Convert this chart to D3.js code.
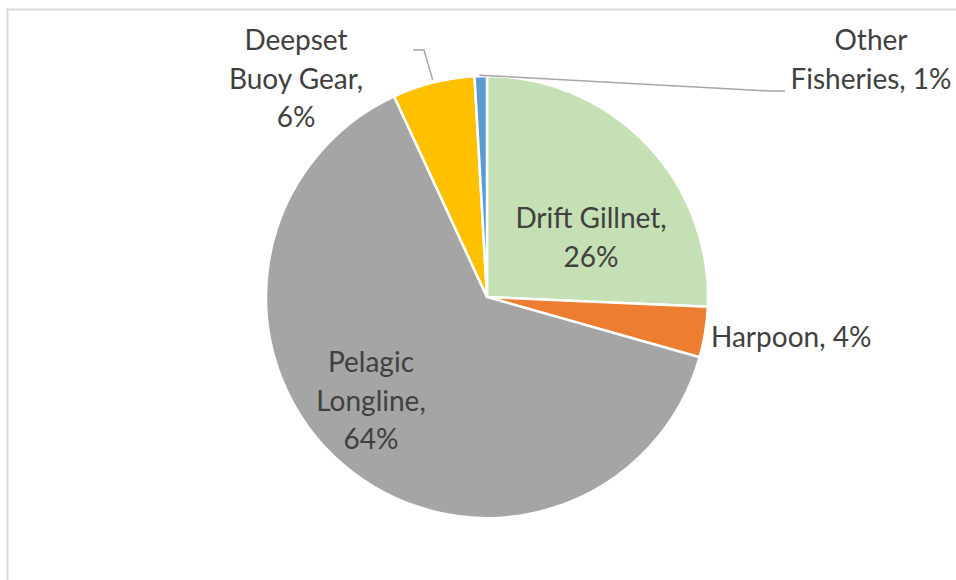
<!DOCTYPE html>
<html>
<head>
<meta charset="utf-8">
<script src="https://cdnjs.cloudflare.com/ajax/libs/d3/7.8.5/d3.min.js"></script>
<style>
  html, body { margin: 0; padding: 0; background: #fff; }
  svg { display: block; }
  .lbl { font-family: Lato, "Open Sans", sans-serif; fill: #404040; }
</style>
</head>
<body>
<svg class="chart"></svg>
<script>
// share of catch by fishery (percent), clockwise from 12 o'clock
var fisheries = ["Drift Gillnet", "Harpoon", "Pelagic Longline", "Deepset Buoy Gear", "Other Fisheries"];
var shares = [25.7, 3.7, 63.7, 6.0, 0.9];
var sliceColors = ["#c5e0b4", "#ed7d31", "#a5a5a5", "#ffc000", "#5b9bd5"];
// how each label is broken into lines
var labelLines = [["Drift Gillnet,"], ["Harpoon,"], ["Pelagic", "Longline,"], ["Deepset", "Buoy Gear,"], ["Other", "Fisheries,"]];

var W = 956, H = 580;
var cx = 487, cy = 297, R = 221;
var fontSize = 28, lineH = 38.5;

// label anchors relative to the pie centre: [dx, dy of first baseline, anchor, pct on own line]
var labelPos = [
  [104, -69, "middle", true],
  [224, 50, "start", false],
  [-116, 75, "middle", true],
  [-191, -247, "middle", true],
  [384, -247, "middle", false]
];

var svg = d3.select(".chart").attr("width", W).attr("height", H);

// chart frame (runs off the right and bottom edge)
svg.append("rect")
  .attr("x", 7.5).attr("y", 9.5)
  .attr("width", 1200).attr("height", 1200)
  .attr("fill", "none").attr("stroke", "#d9d9d9").attr("stroke-width", 2);

var data = fisheries.map(function(f, i) { return {name: f, value: shares[i], i: i}; });

var pie = d3.pie().sort(null).value(function(d) { return d.value; })
  .startAngle(0).endAngle(2 * Math.PI);
var arc = d3.arc().innerRadius(0).outerRadius(R);
var arcs = pie(data);

var g = svg.append("g").attr("transform", "translate(" + cx + "," + cy + ")");

g.selectAll("path.slice")
  .data(arcs)
  .enter().append("path")
  .attr("class", "slice")
  .attr("d", arc)
  .attr("fill", function(d) { return sliceColors[d.data.i]; })
  .attr("stroke", "#fff")
  .attr("stroke-width", 2.5)
  .attr("stroke-linejoin", "round");

// leader lines for the two small outside labels
function edgePoint(a, frac, r) {
  var ang = a.startAngle + (a.endAngle - a.startAngle) * frac;
  return [r * Math.sin(ang), -r * Math.cos(ang)];
}
var line = d3.line();
var pOther = edgePoint(arcs[4], 0.4, R + 1);
var pDeep = edgePoint(arcs[3], 0.5, R + 3);
var leaders = [
  [pOther, [282, -206], [298, -206]],
  [pDeep, [-63, -247], [-74, -247]]
];
g.selectAll("path.leader")
  .data(leaders)
  .enter().append("path")
  .attr("class", "leader")
  .attr("d", line)
  .attr("fill", "none")
  .attr("stroke", "#a6a6a6")
  .attr("stroke-width", 1.5);

var pct = d3.format(".0f");
data.forEach(function(d, i) {
  var p = labelPos[i];
  var lines = labelLines[i].slice();
  var last = pct(d.value) + "%";
  if (p[3]) lines.push(last);
  else lines[lines.length - 1] += " " + last;
  var t = g.append("text").attr("class", "lbl")
    .attr("font-size", fontSize)
    .attr("text-anchor", p[2]);
  lines.forEach(function(s, k) {
    t.append("tspan").attr("x", p[0]).attr("y", p[1] + k * lineH).text(s);
  });
});
</script>
</body>
</html>
